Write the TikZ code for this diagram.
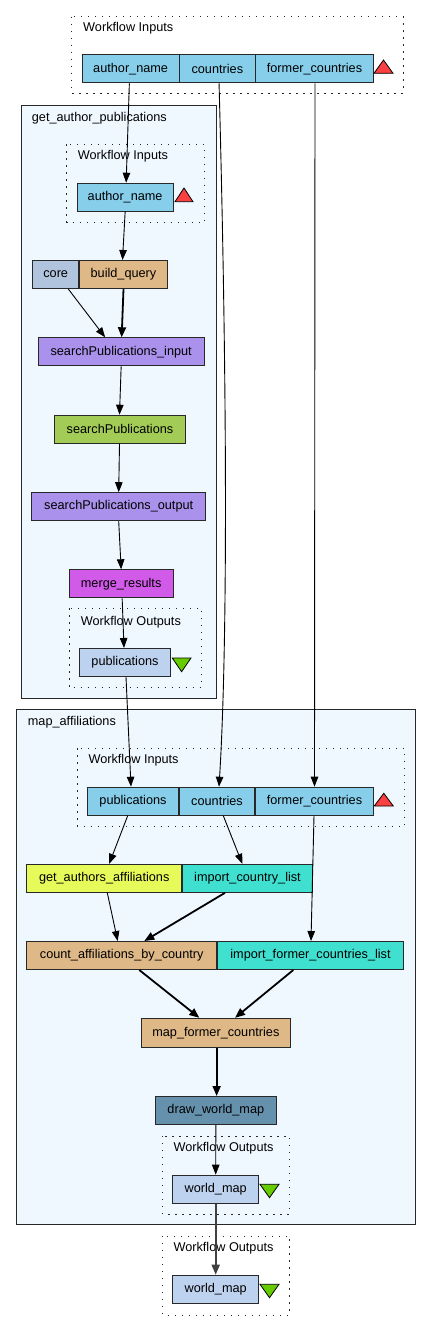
\documentclass[tikz,border=0pt]{standalone}
\usepackage{fontspec}
\setmainfont{Liberation Sans}
\usetikzlibrary{arrows.meta,calc}
\definecolor{inblue}{RGB}{135,206,235}
\definecolor{corecol}{RGB}{176,196,222}
\definecolor{burly}{RGB}{222,184,135}
\definecolor{purp}{RGB}{170,145,235}
\definecolor{sgreen}{RGB}{163,204,87}
\definecolor{orchid}{RGB}{210,90,232}
\definecolor{outblue}{RGB}{189,210,238}
\definecolor{yell}{RGB}{230,250,90}
\definecolor{turq}{RGB}{64,224,208}
\definecolor{steel}{RGB}{101,145,173}
\definecolor{clfill}{RGB}{240,248,255}
\definecolor{tred}{RGB}{250,64,64}
\definecolor{tgreen}{RGB}{102,204,0}
\definecolor{edge}{RGB}{40,40,40}
\tikzset{
  box/.style={draw=edge, line width=1pt, minimum height=28pt, inner sep=0pt,
    font=\fontsize{12.7}{14}\selectfont},
  cluster/.style={draw=edge, line width=0.9pt, fill=clfill},
  dotbox/.style={draw=black!85, line width=1pt, dash pattern=on 1.2pt off 5.8pt},
  lbl/.style={anchor=west, inner sep=0pt, font=\fontsize{12.7}{14}\selectfont},
  conn/.style={draw=black, line width=0.9pt, -{Triangle[length=10pt,width=7.5pt]}},
  tconn/.style={draw=black, line width=1.8pt, -{Triangle[length=10pt,width=8pt]}},
  tri/.style={draw=black, line width=0.8pt}
}
\begin{document}
\begin{tikzpicture}[x=1pt,y=-1pt]
\useasboundingbox (0,0) rectangle (431,1331);
\fill[white] (0,0) rectangle (431,1331);

% ---- top workflow inputs
\draw[dotbox] (71.7,16.7) rectangle (403,93);
\node[lbl] (tlabel) at (83,28) {Workflow Inputs};
\node[box, fill=inblue, minimum width=96.7pt] (tauthor) at (130.65,68.9) {author\_name};
\node[box, fill=inblue, minimum width=75.3pt] (tcountries) at (217.35,68.9) {countries};
\node[box, fill=inblue, minimum width=117.6pt] (tformer) at (314.5,68.9) {former\_countries};
\filldraw[tri, fill=tred] (374,73.3) -- (393,73.3) -- (383.5,60) -- cycle;

% ---- get_author_publications
\draw[cluster] (21,105) rectangle (216,698);
\node[lbl] (glabel) at (31.7,118) {get\_author\_publications};
\draw[dotbox] (66.7,144.3) rectangle (204.3,222.3);
\node[lbl] (gilabel) at (77.7,156.7) {Workflow Inputs};
\node[box, fill=inblue, minimum width=96.3pt] (gauthor) at (125.15,197.2) {author\_name};
\filldraw[tri, fill=tred] (175,201.7) -- (193,201.7) -- (184,188) -- cycle;
\node[box, fill=corecol, minimum width=46pt] (core) at (55.7,274.5) {core};
\node[box, fill=burly, minimum width=88.4pt] (bq) at (123.5,274.5) {build\_query};
\node[box, fill=purp, minimum width=165.7pt] (spi) at (121.15,351.8) {searchPublications\_input};
\node[box, fill=sgreen, minimum width=131.4pt] (sp) at (120,429.2) {searchPublications};
\node[box, fill=purp, minimum width=174pt] (spo) at (118.7,506.7) {searchPublications\_output};
\node[box, fill=orchid, minimum width=104.3pt] (merge) at (121.15,583.8) {merge\_results};
\draw[dotbox] (69,608.3) rectangle (201,687.7);
\node[lbl] (golabel) at (80.7,622.7) {Workflow Outputs};
\node[box, fill=outblue, minimum width=91.4pt] (pub) at (125,662.5) {publications};
\filldraw[tri, fill=tgreen] (172.3,658) -- (191,658) -- (181.6,671.7) -- cycle;

% ---- map_affiliations
\draw[cluster] (16.7,709.3) rectangle (415,1224);
\node[lbl] (mlabel) at (27.7,722.7) {map\_affiliations};
\draw[dotbox] (77.3,748.3) rectangle (404.3,826);
\node[lbl] (milabel) at (88.3,760.7) {Workflow Inputs};
\node[box, fill=inblue, minimum width=90.6pt] (mpub) at (133,801.2) {publications};
\node[box, fill=inblue, minimum width=74.6pt] (mcountries) at (217,801.2) {countries};
\node[box, fill=inblue, minimum width=117.6pt] (mformer) at (314.5,801.2) {former\_countries};
\filldraw[tri, fill=tred] (374.3,806) -- (393.3,806) -- (383.8,793.3) -- cycle;
\node[box, fill=yell, minimum width=155pt] (gaa) at (104.2,878.3) {get\_authors\_affiliations};
\node[box, fill=turq, minimum width=130.4pt] (icl) at (247.5,878.3) {import\_country\_list};
\node[box, fill=burly, minimum width=190pt] (cabc) at (121.7,955.5) {count\_affiliations\_by\_country};
\node[box, fill=turq, minimum width=186.4pt] (ifcl) at (310.5,955.5) {import\_former\_countries\_list};
\node[box, fill=burly, minimum width=149.7pt, minimum height=29pt] (mfc) at (215.85,1032.8) {map\_former\_countries};
\node[box, fill=steel, minimum width=120.3pt] (dwm) at (215.85,1110.5) {draw\_world\_map};
\draw[dotbox] (162.7,1136) rectangle (289.3,1214.3);
\node[lbl] (molabel) at (173.3,1148.3) {Workflow Outputs};
\node[box, fill=outblue, minimum width=86pt] (wm) at (215.7,1189.2) {world\_map};
\filldraw[tri, fill=tgreen] (260,1184.3) -- (279,1184.3) -- (269.5,1197.7) -- cycle;

% ---- bottom workflow outputs
\draw[dotbox] (162.7,1236) rectangle (289.3,1315);
\node[lbl] (bolabel) at (173.3,1248.3) {Workflow Outputs};
\node[box, fill=outblue, minimum width=86pt] (wm2) at (215.7,1289.2) {world\_map};
\filldraw[tri, fill=tgreen] (260,1284.3) -- (279,1284.3) -- (269.5,1297.7) -- cycle;

% ---- connectors
\draw[conn] ([xshift=-1.3pt]tauthor.south) -- ([xshift=1pt]gauthor.north);
\draw[conn] (gauthor.south) -- ([xshift=-1pt]bq.north);
\draw[conn] ([xshift=12.6pt]core.south) -- ([xshift=-16pt]spi.north);
\draw[tconn] (bq.south) -- ([xshift=0.5pt]spi.north);
\draw[conn] (spi.south) -- ([xshift=-0.5pt]sp.north);
\draw[conn] ([xshift=-0.5pt]sp.south) -- (spo.north);
\draw[conn] (spo.south) -- (merge.north);
\draw[conn] ([xshift=1pt]merge.south) -- ([xshift=-1pt]pub.north);
\draw[conn] ([xshift=1pt]pub.south) -- ([xshift=-2pt]mpub.north);
\draw[conn] ([xshift=1.7pt]tcountries.south) .. controls (227,380) and (228,640) .. ([xshift=2pt]mcountries.north);
\draw[conn] ([xshift=0.5pt]tformer.south) -- (mformer.north);
\draw[conn] ([xshift=-5.3pt]mpub.south) -- ([xshift=5pt]gaa.north);
\draw[conn] ([xshift=6.3pt]mcountries.south) -- ([xshift=-5.2pt]icl.north);
\draw[conn] ([xshift=-0.5pt]mformer.south) -- ([xshift=0.5pt]ifcl.north);
\draw[conn] ([xshift=3.1pt]gaa.south) -- ([xshift=-4pt]cabc.north);
\draw[tconn] ([xshift=-22.5pt]icl.south) -- ([xshift=22.6pt]cabc.north);
\draw[tconn] ([xshift=17.6pt]cabc.south) -- ([xshift=-16.5pt]mfc.north);
\draw[tconn] ([xshift=-17.2pt]ifcl.south) -- ([xshift=19.2pt]mfc.north);
\draw[tconn] ([xshift=0.8pt]mfc.south) -- ([xshift=0.8pt]dwm.north);
\draw[conn] (dwm.south) -- (wm.north);
\draw[tconn, draw=black!75] (wm.south) -- (wm2.north);
\end{tikzpicture}
\end{document}
